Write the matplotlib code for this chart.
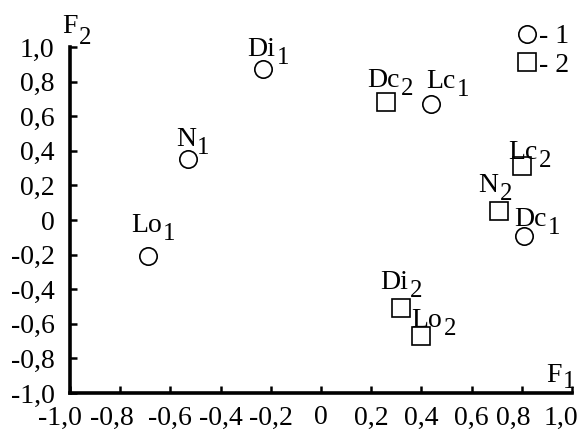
import matplotlib
matplotlib.use("Agg")
import matplotlib.pyplot as plt
from matplotlib.transforms import ScaledTranslation

plt.rcParams['font.family'] = ['Liberation Serif', 'DejaVu Serif']

# --- factor loadings, group 1 (circles) and group 2 (squares) ---
names_1 = ['Di', 'N', 'Lo', 'Lc', 'Dc']
f1_1 = [-0.23, -0.53, -0.69, 0.44, 0.81]
f2_1 = [0.87, 0.35, -0.21, 0.67, -0.09]

names_2 = ['Dc', 'Lc', 'N', 'Di', 'Lo']
f1_2 = [0.26, 0.80, 0.71, 0.32, 0.40]
f2_2 = [0.68, 0.31, 0.05, -0.51, -0.67]

ticks = [-1.0, -0.8, -0.6, -0.4, -0.2, 0.0, 0.2, 0.4, 0.6, 0.8, 1.0]
tick_labels = ['-1,0', '-0,8', '-0,6', '-0,4', '-0,2', '0',
               '0,2', '0,4', '0,6', '0,8', '1,0']

# label placement (pixels from marker centre to the left end of the baseline)
offs_1 = [(-16, 13), (-12, 13), (-17, 24), (-5, 16), (-10, 10)]
offs_2 = [(-19, 15), (-14, 7), (-21, 19), (-21, 19), (-10, 9)]

FS = 20


def sub_label(ax, name, sub, xy, off, xycoords='data', drop=5):
    t = ax.annotate(name, xy=xy, xycoords=xycoords, xytext=off,
                    textcoords='offset pixels', ha='left', va='baseline',
                    fontsize=FS, annotation_clip=False)
    ax.annotate(sub, xy=(1, 0), xycoords=t, xytext=(1, -drop),
                textcoords='offset points', ha='left', va='bottom',
                fontsize=FS - 2, annotation_clip=False)


fig = plt.figure(figsize=(5.8, 4.32), dpi=100)
ax = fig.add_axes([70 / 580, 1 - 393 / 432, 502 / 580, 346 / 432])

mk = dict(linestyle='none', markersize=12.5, markerfacecolor='white',
          markeredgecolor='black', markeredgewidth=1.2, clip_on=False)
ax.plot(f1_1, f2_1, marker='o', label='- 1', **mk)
ax.plot(f1_2, f2_2, marker='s', label='- 2', **mk)

for n, x, y, o in zip(names_1, f1_1, f2_1, offs_1):
    sub_label(ax, n, '1', (x, y), o)
for n, x, y, o in zip(names_2, f1_2, f2_2, offs_2):
    sub_label(ax, n, '2', (x, y), o)

ax.set_xlim(-1, 1)
ax.set_ylim(-1, 1)
ax.set_xticks(ticks)
ax.set_xticklabels(tick_labels)
ax.set_yticks(ticks)
ax.set_yticklabels(tick_labels)
ax.tick_params(direction='in', length=5, width=1.8, labelsize=FS)
ax.tick_params(axis='x', pad=9)
ax.tick_params(axis='y', pad=11)
for side in ['top', 'right']:
    ax.spines[side].set_visible(False)
for side in ['left', 'bottom']:
    ax.spines[side].set_linewidth(2.6)

# nudge the crowded x labels at both ends to the left
shifts = {0: -10, 1: -8, 9: -9, 10: -11}
for i, lab in enumerate(ax.get_xticklabels()):
    if i in shifts:
        lab.set_transform(lab.get_transform() +
                          ScaledTranslation(shifts[i] / 100, 0, fig.dpi_scale_trans))

# axis names
sub_label(ax, 'F', '2', (-0.016, 1.040), (0, 0), xycoords='axes fraction', drop=7)
sub_label(ax, 'F', '1', (0.948, 0.032), (0, 0), xycoords='axes fraction', drop=4)

ax.legend(loc='upper left', bbox_to_anchor=(517 / 580, 1 - 24 / 432),
          bbox_transform=fig.transFigure, frameon=False, fontsize=FS,
          handlelength=0.7, handletextpad=0.1, labelspacing=0.1,
          borderpad=0, borderaxespad=0)

fig.savefig('out.png', dpi=100)
